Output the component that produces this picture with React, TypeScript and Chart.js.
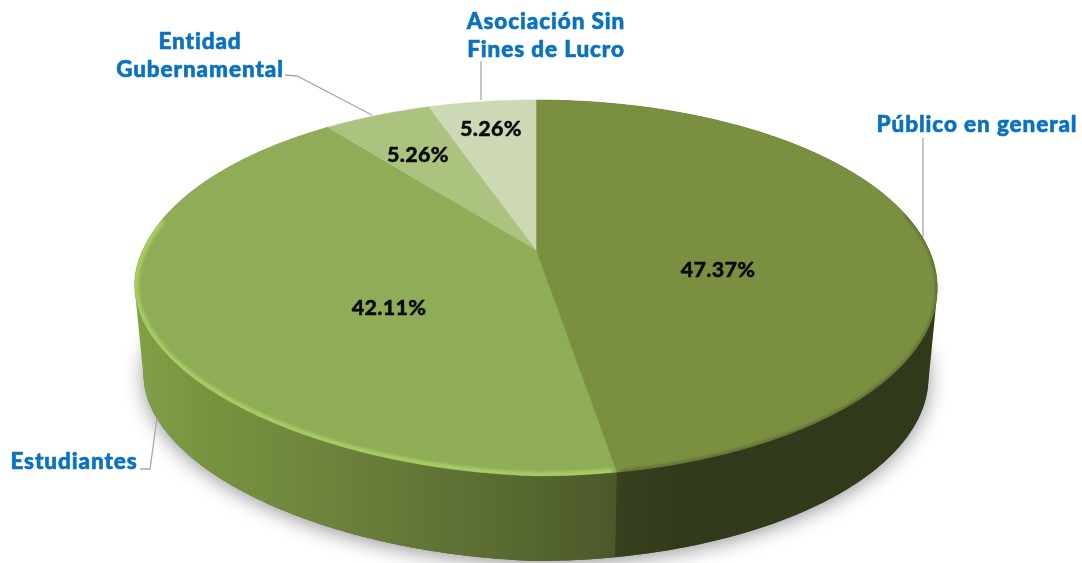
import React, { useEffect, useRef } from "react";
import { Chart, registerables } from "chart.js";

Chart.register(...registerables);

const categories = ["Público en general", "Estudiantes", "Entidad Gubernamental", "Asociación Sin Fines de Lucro"];
const values = [47.37, 42.11, 5.26, 5.26];
const topColors = ["#7A8F40", "#8FAD56", "#ACC37F", "#CDD8B4"];

const W = 1082;
const H = 563;
const CX = 536, CY = 250, A = 180.3, C = 393, B = -0.202, DEPTH_SCALE = 0.978, DEPTH = 90, FRONT_LEFT_LIFT = 16;

const FONT = 'Lato, "Open Sans", sans-serif';
const NAME_COLOR = "#0B72C0";
const LINE_COLOR = "#A8A8A8";

// [text, centre x, baseline y] for each line of each category label
const nameLines: [string, number, number][] = [
  ["Público en general", 977, 132],
  ["Estudiantes", 74, 469],
  ["Entidad", 200, 49],
  ["Gubernamental", 200, 77],
  ["Asociación Sin", 546, 29],
  ["Fines de Lucro", 546, 57],
];
const pctPositions: [number, number][] = [
  [718, 270],
  [389, 308],
  [418, 155],
  [491, 129],
];
const leaders: [number, number][][] = [
  [[923, 138], [923, 237]],
  [[140, 469], [150, 469], [157, 418]],
  [[285, 75], [297, 76], [372, 115]],
  [[481, 61], [481, 100]],
];

function project(theta: number, level: number): [number, number] {
  const u = Math.cos(theta);
  const v = Math.sin(theta);
  const den = 1 + B * v;
  const s = level === 0 ? 1 : DEPTH_SCALE;
  const dy = level === 0 ? 0 : DEPTH;
  const lift = FRONT_LEFT_LIFT * Math.max(0, -u) * Math.max(0, v);
  return [CX + (C * s * u) / den, CY + dy + (A * s * v) / den - lift];
}

function arcPts(ctx: CanvasRenderingContext2D, a0: number, a1: number, level: number, move = false) {
  const n = Math.max(4, Math.ceil(Math.abs(a1 - a0) / 0.01));
  for (let i = 0; i <= n; i++) {
    const t = a0 + ((a1 - a0) * i) / n;
    const [x, y] = project(t, level);
    if (i === 0 && move) ctx.moveTo(x, y);
    else ctx.lineTo(x, y);
  }
}

const rad = (d: number) => (d * Math.PI) / 180;

function sweep(ctx: CanvasRenderingContext2D, a0: number, a1: number) {
  const n = Math.ceil((a1 - a0) / 0.01);
  ctx.beginPath();
  for (let i = 0; i < n; i++) {
    const t0 = a0 + ((a1 - a0) * i) / n;
    const t1 = a0 + ((a1 - a0) * (i + 1)) / n;
    const p = [project(t0, 0), project(t1, 0), project(t1, 1), project(t0, 1)];
    const area =
      (p[1][0] - p[0][0]) * (p[2][1] - p[0][1]) - (p[1][1] - p[0][1]) * (p[2][0] - p[0][0]);
    const order = area >= 0 ? p : [...p].reverse();
    ctx.moveTo(order[0][0], order[0][1]);
    for (let k = 1; k < 4; k++) ctx.lineTo(order[k][0], order[k][1]);
    ctx.closePath();
  }
}

const pie3d = {
  id: "pie3d",
  beforeDatasetsDraw(chart: any) {
    const ctx: CanvasRenderingContext2D = chart.ctx;
    const arcs = chart.getDatasetMeta(0).data;
    ctx.save();

    // soft ground shadow
    ctx.save();
    ctx.shadowColor = "rgba(0,0,0,0.42)";
    ctx.shadowBlur = 20;
    ctx.shadowOffsetY = 3;
    ctx.fillStyle = "#555";
    ctx.beginPath();
    arcPts(ctx, 0, Math.PI * 2, 1, true);
    ctx.closePath();
    ctx.fill();
    ctx.restore();

    // sides
    const light = ctx.createLinearGradient(135, 0, 614, 0);
    light.addColorStop(0, "#82A047");
    light.addColorStop(0.15, "#77933F");
    light.addColorStop(0.45, "#6C803B");
    light.addColorStop(0.75, "#5A6C32");
    light.addColorStop(1, "#4B592A");
    const dark = ctx.createLinearGradient(614, 0, 938, 0);
    dark.addColorStop(0, "#38421F");
    dark.addColorStop(0.2, "#313A1A");
    dark.addColorStop(1, "#30391A");
    [1, 0].forEach((i) => {
      const { startAngle, endAngle } = arcs[i];
      ctx.fillStyle = i === 0 ? dark : light;
      sweep(ctx, startAngle, endAngle);
      ctx.fill("nonzero");
    });

    // top faces
    arcs.forEach((el: any, i: number) => {
      ctx.fillStyle = topColors[i];
      ctx.strokeStyle = topColors[i];
      ctx.lineWidth = 0.6;
      ctx.beginPath();
      ctx.moveTo(CX, CY);
      arcPts(ctx, el.startAngle, el.endAngle, 0);
      ctx.closePath();
      ctx.fill();
      ctx.stroke();
    });

    // bevel along the rim
    ctx.save();
    ctx.beginPath();
    arcPts(ctx, 0, Math.PI * 2, 0, true);
    ctx.closePath();
    ctx.clip();
    ctx.filter = "blur(1.6px)";
    ctx.lineWidth = 8;
    ctx.strokeStyle = "#A8CC64";
    ctx.beginPath();
    arcPts(ctx, rad(81), rad(190), 0, true);
    ctx.stroke();
    ctx.lineWidth = 3;
    ctx.strokeStyle = "#59692F";
    ctx.beginPath();
    arcPts(ctx, rad(-12), rad(80), 0, true);
    ctx.stroke();
    ctx.restore();

    // leader lines
    ctx.strokeStyle = LINE_COLOR;
    ctx.lineWidth = 1.3;
    leaders.forEach((pts) => {
      ctx.beginPath();
      pts.forEach(([x, y], k) => (k ? ctx.lineTo(x, y) : ctx.moveTo(x, y)));
      ctx.stroke();
    });

    // texts
    ctx.textAlign = "center";
    ctx.textBaseline = "alphabetic";
    ctx.lineJoin = "round";
    (ctx as any).letterSpacing = "0.9px";
    ctx.fillStyle = NAME_COLOR;
    ctx.strokeStyle = NAME_COLOR;
    ctx.lineWidth = 0.6;
    ctx.font = `900 22.5px ${FONT}`;
    nameLines.forEach(([t, x, y]) => {
      ctx.fillText(t, x, y);
      ctx.strokeText(t, x, y);
    });
    (ctx as any).letterSpacing = "0.3px";
    ctx.fillStyle = "#0A0A0A";
    ctx.strokeStyle = "#0A0A0A";
    ctx.lineWidth = 0.4;
    ctx.textBaseline = "middle";
    ctx.font = `900 21.5px ${FONT}`;
    values.forEach((v, i) => {
      const [x, y] = pctPositions[i];
      ctx.fillText(`${v.toFixed(2)}%`, x, y);
      ctx.strokeText(`${v.toFixed(2)}%`, x, y);
    });
    ctx.restore();
    return false;
  },
};

export default function App() {
  const ref = useRef<HTMLCanvasElement | null>(null);
  useEffect(() => {
    if (!ref.current) return;
    const chart = new Chart(ref.current, {
      type: "pie",
      data: {
        labels: categories,
        datasets: [{ data: values, backgroundColor: topColors, borderWidth: 0 }],
      },
      options: {
        responsive: false,
        animation: false,
        plugins: { legend: { display: false }, tooltip: { enabled: false } },
      },
      plugins: [pie3d as any],
    });
    return () => chart.destroy();
  }, []);
  return (
    <canvas
      ref={ref}
      width={W}
      height={H}
      style={{ position: "absolute", left: 0, top: 0, width: W, height: H, filter: "blur(0.45px)" }}
    />
  );
}
